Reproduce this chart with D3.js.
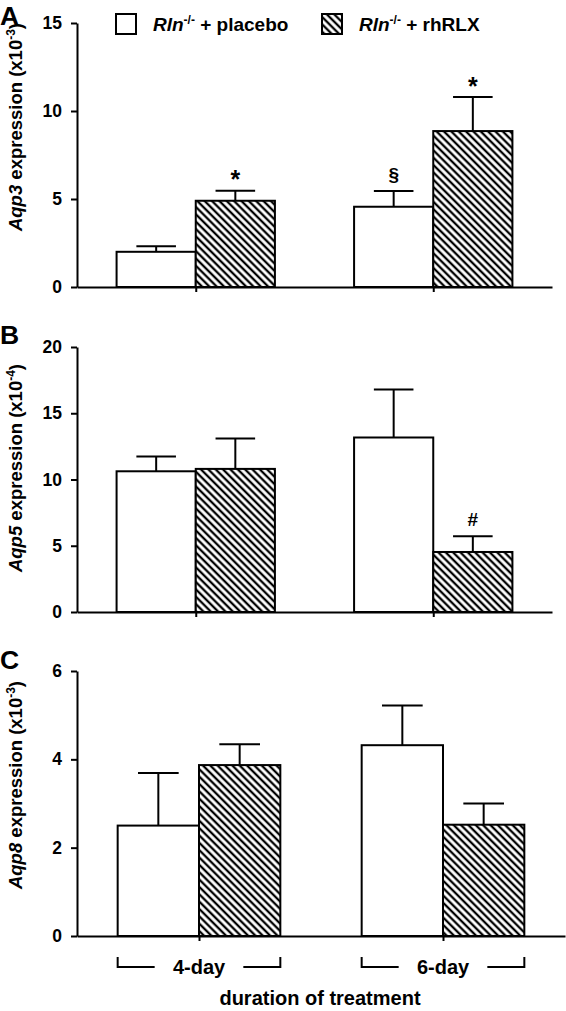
<!DOCTYPE html>
<html><head><meta charset="utf-8">
<script src="https://cdn.jsdelivr.net/npm/d3@7"></script>
<style>
body{margin:0;background:#fff}
svg{display:block}
text{font-family:"Liberation Sans",Arial,sans-serif;font-weight:bold;fill:#000}
</style>
</head><body>
<svg id="chart" width="566" height="1011"></svg>
<script>
// ---------- data ----------
const groups = ["4-day", "6-day"];
const seriesLabels = ["+ placebo", "+ rhRLX"];

const aqp3Placebo = [2.0, 4.56];
const aqp3PlaceboErr = [0.31, 0.89];
const aqp3Rhrlx = [4.9, 8.86];
const aqp3RhrlxErr = [0.57, 1.94];
const aqp3PlaceboSig = ["", "§"];
const aqp3RhrlxSig = ["*", "*"];
const aqp3Ticks = [0, 5, 10, 15];

const aqp5Placebo = [10.62, 13.17];
const aqp5PlaceboErr = [1.12, 3.63];
const aqp5Rhrlx = [10.8, 4.53];
const aqp5RhrlxErr = [2.3, 1.19];
const aqp5PlaceboSig = ["", ""];
const aqp5RhrlxSig = ["", "#"];
const aqp5Ticks = [0, 5, 10, 15, 20];

const aqp8Placebo = [2.5, 4.32];
const aqp8PlaceboErr = [1.19, 0.9];
const aqp8Rhrlx = [3.87, 2.52];
const aqp8RhrlxErr = [0.47, 0.48];
const aqp8PlaceboSig = ["", ""];
const aqp8RhrlxSig = ["", ""];
const aqp8Ticks = [0, 2, 4, 6];

// ---------- layout ----------
const panels = [
  {letter:"A", gene:"Aqp3", exp:"-3", top:23, bottom:287, x0:77, x1:552, titleY:127, letterY:25,
   p:aqp3Placebo, pe:aqp3PlaceboErr, r:aqp3Rhrlx, re:aqp3RhrlxErr, ps:aqp3PlaceboSig, rs:aqp3RhrlxSig, ticks:aqp3Ticks},
  {letter:"B", gene:"Aqp5", exp:"-4", top:347, bottom:612, x0:77, x1:552, titleY:468, letterY:344,
   p:aqp5Placebo, pe:aqp5PlaceboErr, r:aqp5Rhrlx, re:aqp5RhrlxErr, ps:aqp5PlaceboSig, rs:aqp5RhrlxSig, ticks:aqp5Ticks},
  {letter:"C", gene:"Aqp8", exp:"-3", top:671, bottom:936, x0:77, x1:565, titleY:785, letterY:669,
   p:aqp8Placebo, pe:aqp8PlaceboErr, r:aqp8Rhrlx, re:aqp8RhrlxErr, ps:aqp8PlaceboSig, rs:aqp8RhrlxSig, ticks:aqp8Ticks}
];

const svg = d3.select("#chart");
const defs = svg.append("defs");
const pat = defs.append("pattern").attr("id","hatch")
  .attr("patternUnits","userSpaceOnUse").attr("width",5.2).attr("height",5.2)
  .attr("patternTransform","rotate(-45)");
pat.append("rect").attr("width",5.2).attr("height",5.2).attr("fill","#fff");
pat.append("line").attr("x1",2.6).attr("y1",0).attr("x2",2.6).attr("y2",5.2)
  .attr("stroke","#000").attr("stroke-width",2.3);

const SW = 2;
let lastX = null, lastBW = 0;

panels.forEach(pn => {
  const g = svg.append("g");
  const y = d3.scaleLinear().domain([0, d3.max(pn.ticks)]).range([pn.bottom, pn.top]);
  const x = d3.scalePoint().domain(groups).range([pn.x0, pn.x1]).padding(0.5);
  const bw = (pn.x1 - pn.x0) / 6;
  lastX = x; lastBW = bw;

  const rows = groups.map((grp, i) => [
    {grp, v:pn.p[i], e:pn.pe[i], s:pn.ps[i], off:-bw, fill:"#fff"},
    {grp, v:pn.r[i], e:pn.re[i], s:pn.rs[i], off:0, fill:"url(#hatch)"}
  ]).flat();

  // error bars
  rows.forEach(d => {
    const cx = x(d.grp) + d.off + bw/2;
    g.append("line").attr("x1",cx).attr("x2",cx).attr("y1",y(d.v)).attr("y2",y(d.v+d.e))
      .attr("stroke","#000").attr("stroke-width",SW);
    g.append("line").attr("x1",cx-bw/4).attr("x2",cx+bw/4).attr("y1",y(d.v+d.e)).attr("y2",y(d.v+d.e))
      .attr("stroke","#000").attr("stroke-width",SW);
    if (d.s) {
      const fs = d.s==="*" ? 25 : 19;
      const gap = d.s==="*" ? 1 : 10;
      g.append("text").attr("x",cx).attr("y",y(d.v+d.e)-gap)
        .attr("dy", d.s==="*" ? "-0.05em" : 0)
        .attr("text-anchor","middle").attr("font-size", fs).text(d.s);
    }
  });
  g.selectAll("rect.bar").data(rows).join("rect").attr("class","bar")
    .attr("x", d => x(d.grp) + d.off).attr("width", bw)
    .attr("y", d => y(d.v)).attr("height", d => y(0) - y(d.v))
    .attr("fill", d => d.fill).attr("stroke","#000").attr("stroke-width",SW);

  // y axis
  const ya = g.append("g").attr("transform",`translate(${pn.x0},0)`)
    .call(d3.axisLeft(y).tickValues(pn.ticks).tickSize(6).tickSizeOuter(0).tickPadding(9).tickFormat(d3.format("d")));
  ya.select(".domain").attr("stroke-width",SW);
  ya.selectAll(".tick line").attr("stroke-width",SW);
  ya.selectAll(".tick text").attr("font-size",17.5).attr("font-family","Liberation Sans, Arial, sans-serif").attr("font-weight","bold");

  // x axis
  const xa = g.append("g").attr("transform",`translate(0,${pn.bottom})`)
    .call(d3.axisBottom(x).tickSize(5).tickSizeOuter(0).tickFormat(""));
  xa.select(".domain").attr("stroke-width",SW);
  xa.selectAll(".tick line").attr("stroke-width",SW);

  // y title
  const t = g.append("text").attr("text-anchor","middle").attr("font-size",18.5)
    .attr("transform",`translate(22,${pn.titleY}) rotate(-90)`);
  t.append("tspan").attr("font-style","italic").text(pn.gene);
  t.append("tspan").text(" expression (x10");
  t.append("tspan").attr("font-size",12).attr("dy",-7).text(pn.exp);
  t.append("tspan").attr("dy",7).text(")");

  // panel letter
  g.append("text").attr("x",0).attr("y",pn.letterY).attr("font-size",26.5).text(pn.letter);
});

// legend
const lg = svg.append("g");
[{x:116, fill:"#fff", label:seriesLabels[0]}, {x:322, fill:"url(#hatch)", label:seriesLabels[1]}].forEach(l => {
  lg.append("rect").attr("x",l.x).attr("y",14).attr("width",20).attr("height",20)
    .attr("fill",l.fill).attr("stroke","#000").attr("stroke-width",SW);
  const tt = lg.append("text").attr("x",l.x+37).attr("y",31).attr("font-size",19);
  tt.append("tspan").attr("font-style","italic").text("Rln");
  tt.append("tspan").attr("font-size",12).attr("dy",-7).text("-/-");
  tt.append("tspan").attr("dy",7).text(" " + l.label);
});

// group brackets
const bg = svg.append("g");
const by = 967, bTop = 957;
groups.forEach(grp => {
  const c = lastX(grp);
  const L = c - lastBW, R = c + lastBW;
  bg.append("path").attr("d",`M${L},${bTop}V${by}H${L+37}`).attr("fill","none").attr("stroke","#000").attr("stroke-width",SW);
  bg.append("path").attr("d",`M${R-37},${by}H${R}V${bTop}`).attr("fill","none").attr("stroke","#000").attr("stroke-width",SW);
  bg.append("text").attr("x",c).attr("y",974).attr("text-anchor","middle").attr("font-size",20).text(grp);
});
svg.append("text").attr("x",320).attr("y",1005).attr("text-anchor","middle").attr("font-size",20).text("duration of treatment");
</script>
</body></html>
